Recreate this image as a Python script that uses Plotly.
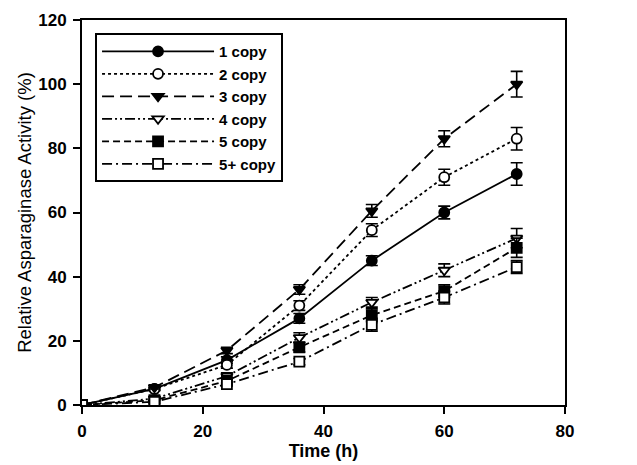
import plotly.graph_objects as go

time_h = [0, 12, 24, 36, 48, 60, 72]
series_names = ["1 copy", "2 copy", "3 copy", "4 copy", "5 copy", "5+ copy"]
copy1 = [0, 5, 14, 27, 45, 60, 72]
copy2 = [0, 5, 12.5, 31, 54.5, 71, 83]
copy3 = [0, 5.5, 17, 36, 60.5, 83, 100]
copy4 = [0, 2, 9, 21, 32, 42, 52]
copy5 = [0, 1.5, 7.5, 18, 28, 35.5, 49]
copy5p = [0, 1, 6.5, 13.5, 25, 33.5, 43]
err1 = [0, 0.5, 1, 1.5, 1.5, 2, 3.5]
err2 = [0, 0.5, 1, 1.5, 2, 2.5, 3.5]
err3 = [0, 0.5, 1, 1.5, 2, 2.5, 4]
err4 = [0, 0.5, 1, 1.5, 1.5, 2, 3]
err5 = [0, 0.5, 1, 1.5, 2, 2, 3]
err5p = [0, 0.5, 0.5, 1, 2, 2, 2]
x_ticks = [0, 20, 40, 60, 80]
y_ticks = [0, 20, 40, 60, 80, 100, 120]

values = [copy1, copy2, copy3, copy4, copy5, copy5p]
errors = [err1, err2, err3, err4, err5, err5p]
dashes = ["solid", "dot", "12px,6px", "10px,3px,2px,3px,2px,3px", "7px,4px", "10px,4px,2px,4px"]
symbols = ["circle", "circle-open", "triangle-down", "triangle-down-open", "square", "square-open"]

fig = go.Figure()
for name, v, e, d, s in zip(series_names, values, errors, dashes, symbols):
    fill = "white" if "open" in s else "black"
    fig.add_trace(go.Scatter(
        x=time_h, y=v, name=name, mode="lines+markers",
        line=dict(color="black", width=1.8, dash=d),
        marker=dict(symbol=s.replace("-open", ""), size=10, color=fill,
                    line=dict(color="black", width=1.8)),
        error_y=dict(type="data", array=e, visible=True, color="black",
                     thickness=1.6, width=6),
    ))

# The page body adds an 8px offset, so the figure is sized to fit the window.
font = "Liberation Sans, Arial, sans-serif"
fig.update_layout(
    width=629, height=457,
    margin=dict(l=74, r=72, t=12, b=60),
    paper_bgcolor="white", plot_bgcolor="white",
    font=dict(family=font, color="black", size=16),
    showlegend=True,
    legend=dict(x=0.027, y=0.966, xanchor="left", yanchor="top",
                bordercolor="black", borderwidth=2, bgcolor="white",
                font=dict(family=font, size=15, color="black", weight="bold"),
                itemwidth=112, tracegroupgap=0),
    xaxis=dict(range=[0, 80], tickvals=x_ticks, showgrid=False, zeroline=False,
               showline=True, linecolor="black", linewidth=2, mirror=True,
               ticks="outside", ticklen=7, tickwidth=2, tickcolor="black",
               automargin=False, ticklabelstandoff=3,
               tickfont=dict(size=17, weight="bold"),
               title=dict(text="Time (h)", font=dict(size=18, weight="bold"), standoff=4)),
    yaxis=dict(range=[0, 120], tickvals=y_ticks, showgrid=False, zeroline=False,
               showline=True, linecolor="black", linewidth=2, mirror=True,
               ticks="outside", ticklen=7, tickwidth=2, tickcolor="black",
               automargin=False, ticklabelstandoff=3,
               tickfont=dict(size=17, weight="bold"),
               title=dict(text="Relative Asparaginase Activity (%)",
                          font=dict(size=18.5), standoff=2)),
)

fig.write_html("out.html")
